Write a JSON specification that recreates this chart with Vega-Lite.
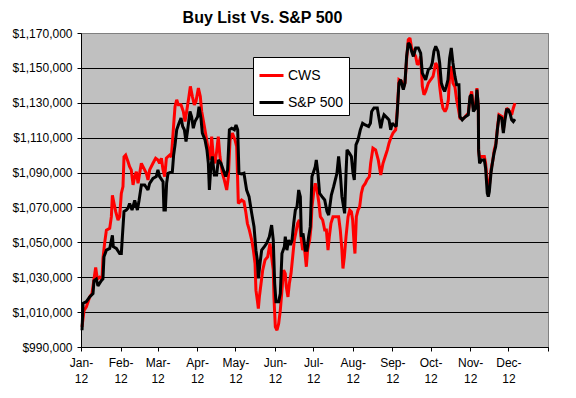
{
  "$schema": "https://vega.github.io/schema/vega-lite/v6.json",
  "width": 467,
  "height": 314,
  "autosize": {"type": "none"},
  "padding": {"left": 81, "top": 33, "right": 28, "bottom": 51},
  "background": "white",
  "title": {"text": "Buy List Vs. S&P 500", "font": "Liberation Sans", "fontSize": 16, "fontWeight": "bold", "color": "black", "anchor": "middle", "dx": -52, "offset": 1},
  "config": {"view": {"fill": "#C0C0C0", "stroke": "#808080", "strokeWidth": 1}, "font": "Liberation Sans"},
  "data": {"values": [
    {"series":"CWS","day":0.8,"value":1001500},{"series":"CWS","day":2.4,"value":1011000},{"series":"CWS","day":4.2,"value":1013000},{"series":"CWS","day":6.8,"value":1018700},{"series":"CWS","day":8.6,"value":1020600},{"series":"CWS","day":10.2,"value":1029000},{"series":"CWS","day":11.5,"value":1035600},{"series":"CWS","day":12.8,"value":1029000},{"series":"CWS","day":14.6,"value":1030000},{"series":"CWS","day":16.5,"value":1029000},{"series":"CWS","day":17.2,"value":1040700},{"series":"CWS","day":18.5,"value":1049400},{"series":"CWS","day":19.9,"value":1057000},{"series":"CWS","day":22.5,"value":1058000},{"series":"CWS","day":23.8,"value":1064700},{"series":"CWS","day":24.6,"value":1077000},{"series":"CWS","day":25.9,"value":1072300},{"series":"CWS","day":27.2,"value":1067600},{"series":"CWS","day":29.0,"value":1062800},{"series":"CWS","day":30.3,"value":1064700},{"series":"CWS","day":31.6,"value":1078000},{"series":"CWS","day":32.9,"value":1082000},{"series":"CWS","day":33.7,"value":1099000},{"series":"CWS","day":35.0,"value":1100000},{"series":"CWS","day":36.8,"value":1096300},{"series":"CWS","day":38.1,"value":1093400},{"series":"CWS","day":39.4,"value":1091500},{"series":"CWS","day":40.8,"value":1082900},{"series":"CWS","day":42.1,"value":1087700},{"series":"CWS","day":43.4,"value":1090500},{"series":"CWS","day":44.7,"value":1083800},{"series":"CWS","day":46.0,"value":1089600},{"series":"CWS","day":47.3,"value":1095300},{"series":"CWS","day":48.6,"value":1093400},{"series":"CWS","day":51.2,"value":1089600},{"series":"CWS","day":52.5,"value":1085800},{"series":"CWS","day":53.8,"value":1091500},{"series":"CWS","day":56.4,"value":1095300},{"series":"CWS","day":58.5,"value":1098200},{"series":"CWS","day":60.3,"value":1097200},{"series":"CWS","day":61.6,"value":1095300},{"series":"CWS","day":63.0,"value":1098200},{"series":"CWS","day":64.3,"value":1091500},{"series":"CWS","day":65.6,"value":1087700},{"series":"CWS","day":66.9,"value":1098200},{"series":"CWS","day":68.2,"value":1099200},{"series":"CWS","day":69.5,"value":1100000},{"series":"CWS","day":70.8,"value":1099000},{"series":"CWS","day":71.6,"value":1106800},{"series":"CWS","day":72.9,"value":1120200},{"series":"CWS","day":73.7,"value":1127900},{"series":"CWS","day":75.0,"value":1131700},{"series":"CWS","day":76.3,"value":1128800},{"series":"CWS","day":78.4,"value":1128800},{"series":"CWS","day":80.2,"value":1125000},{"series":"CWS","day":81.5,"value":1119200},{"series":"CWS","day":82.8,"value":1125000},{"series":"CWS","day":84.6,"value":1133600},{"series":"CWS","day":85.7,"value":1139400},{"series":"CWS","day":87.3,"value":1133600},{"series":"CWS","day":88.8,"value":1128800},{"series":"CWS","day":90.1,"value":1130700},{"series":"CWS","day":92.0,"value":1138400},{"series":"CWS","day":93.5,"value":1133600},{"series":"CWS","day":94.6,"value":1125000},{"series":"CWS","day":96.7,"value":1116400},{"series":"CWS","day":98.5,"value":1108700},{"series":"CWS","day":99.8,"value":1103000},{"series":"CWS","day":101.1,"value":1097200},{"series":"CWS","day":102.4,"value":1110600},{"series":"CWS","day":103.7,"value":1099200},{"series":"CWS","day":105.0,"value":1095300},{"series":"CWS","day":106.3,"value":1102000},{"series":"CWS","day":107.6,"value":1110600},{"series":"CWS","day":108.9,"value":1099200},{"series":"CWS","day":110.8,"value":1089600},{"series":"CWS","day":112.3,"value":1085800},{"series":"CWS","day":114.2,"value":1080000},{"series":"CWS","day":115.5,"value":1087700},{"series":"CWS","day":116.8,"value":1108700},{"series":"CWS","day":118.6,"value":1112600},{"series":"CWS","day":120.7,"value":1108700},{"series":"CWS","day":122.0,"value":1104900},{"series":"CWS","day":123.3,"value":1072300},{"series":"CWS","day":125.9,"value":1074300},{"series":"CWS","day":127.7,"value":1073300},{"series":"CWS","day":129.1,"value":1067600},{"series":"CWS","day":130.4,"value":1060900},{"series":"CWS","day":131.9,"value":1057100},{"series":"CWS","day":133.8,"value":1051300},{"series":"CWS","day":135.1,"value":1045500},{"series":"CWS","day":136.4,"value":1037900},{"series":"CWS","day":137.1,"value":1022600},{"series":"CWS","day":138.2,"value":1016800},{"series":"CWS","day":139.0,"value":1012000},{"series":"CWS","day":139.8,"value":1018700},{"series":"CWS","day":141.1,"value":1026400},{"series":"CWS","day":142.4,"value":1034000},{"series":"CWS","day":144.2,"value":1039800},{"series":"CWS","day":146.3,"value":1041700},{"series":"CWS","day":148.1,"value":1049400},{"series":"CWS","day":149.4,"value":1041700},{"series":"CWS","day":150.7,"value":1034000},{"series":"CWS","day":151.2,"value":1018700},{"series":"CWS","day":152.3,"value":1001500},{"series":"CWS","day":153.6,"value":999600},{"series":"CWS","day":154.9,"value":1003400},{"series":"CWS","day":156.2,"value":1011000},{"series":"CWS","day":157.5,"value":1022600},{"series":"CWS","day":158.8,"value":1034000},{"series":"CWS","day":160.1,"value":1032100},{"series":"CWS","day":160.9,"value":1024500},{"series":"CWS","day":162.2,"value":1018700},{"series":"CWS","day":163.3,"value":1026400},{"series":"CWS","day":164.6,"value":1032100},{"series":"CWS","day":165.9,"value":1041700},{"series":"CWS","day":167.2,"value":1051300},{"series":"CWS","day":168.5,"value":1056100},{"series":"CWS","day":169.8,"value":1060900},{"series":"CWS","day":171.1,"value":1062800},{"series":"CWS","day":172.4,"value":1053200},{"series":"CWS","day":173.7,"value":1045500},{"series":"CWS","day":175.0,"value":1047500},{"series":"CWS","day":176.6,"value":1036000},{"series":"CWS","day":177.6,"value":1045500},{"series":"CWS","day":179.2,"value":1051300},{"series":"CWS","day":180.3,"value":1059000},{"series":"CWS","day":181.0,"value":1070400},{"series":"CWS","day":182.3,"value":1078100},{"series":"CWS","day":183.6,"value":1083800},{"series":"CWS","day":185.0,"value":1080000},{"series":"CWS","day":186.3,"value":1073300},{"series":"CWS","day":187.6,"value":1064700},{"series":"CWS","day":189.4,"value":1062800},{"series":"CWS","day":191.0,"value":1057100},{"series":"CWS","day":192.3,"value":1057100},{"series":"CWS","day":193.6,"value":1045500},{"series":"CWS","day":194.6,"value":1053200},{"series":"CWS","day":195.9,"value":1060900},{"series":"CWS","day":197.5,"value":1064700},{"series":"CWS","day":199.3,"value":1064700},{"series":"CWS","day":201.9,"value":1064700},{"series":"CWS","day":203.2,"value":1057100},{"series":"CWS","day":204.5,"value":1045500},{"series":"CWS","day":205.3,"value":1035000},{"series":"CWS","day":206.4,"value":1041700},{"series":"CWS","day":207.7,"value":1053200},{"series":"CWS","day":209.3,"value":1064700},{"series":"CWS","day":210.6,"value":1068500},{"series":"CWS","day":211.9,"value":1067600},{"series":"CWS","day":212.9,"value":1062800},{"series":"CWS","day":214.0,"value":1049400},{"series":"CWS","day":214.7,"value":1043600},{"series":"CWS","day":215.8,"value":1064700},{"series":"CWS","day":217.1,"value":1068500},{"series":"CWS","day":218.4,"value":1070400},{"series":"CWS","day":219.7,"value":1078100},{"series":"CWS","day":221.0,"value":1081900},{"series":"CWS","day":222.8,"value":1083800},{"series":"CWS","day":224.1,"value":1085800},{"series":"CWS","day":226.0,"value":1087700},{"series":"CWS","day":227.0,"value":1095300},{"series":"CWS","day":228.8,"value":1104000},{"series":"CWS","day":230.9,"value":1103000},{"series":"CWS","day":233.0,"value":1097200},{"series":"CWS","day":234.9,"value":1088600},{"series":"CWS","day":236.7,"value":1095300},{"series":"CWS","day":238.8,"value":1100100},{"series":"CWS","day":240.1,"value":1103000},{"series":"CWS","day":241.4,"value":1106800},{"series":"CWS","day":242.7,"value":1109700},{"series":"CWS","day":244.5,"value":1112600},{"series":"CWS","day":246.6,"value":1114500},{"series":"CWS","day":247.9,"value":1126000},{"series":"CWS","day":249.2,"value":1143200},{"series":"CWS","day":251.3,"value":1142200},{"series":"CWS","day":252.6,"value":1138400},{"series":"CWS","day":253.9,"value":1141300},{"series":"CWS","day":255.2,"value":1154700},{"series":"CWS","day":256.5,"value":1166200},{"series":"CWS","day":257.8,"value":1167100},{"series":"CWS","day":259.1,"value":1161400},{"series":"CWS","day":261.0,"value":1158500},{"series":"CWS","day":262.3,"value":1156600},{"series":"CWS","day":263.6,"value":1151800},{"series":"CWS","day":264.9,"value":1152800},{"series":"CWS","day":266.2,"value":1156600},{"series":"CWS","day":267.5,"value":1139400},{"series":"CWS","day":268.8,"value":1134600},{"series":"CWS","day":270.1,"value":1136500},{"series":"CWS","day":272.2,"value":1141300},{"series":"CWS","day":274.0,"value":1143200},{"series":"CWS","day":275.9,"value":1145100},{"series":"CWS","day":278.0,"value":1152800},{"series":"CWS","day":279.8,"value":1150000},{"series":"CWS","day":281.1,"value":1139400},{"series":"CWS","day":282.4,"value":1131700},{"series":"CWS","day":283.7,"value":1126900},{"series":"CWS","day":285.3,"value":1125000},{"series":"CWS","day":286.6,"value":1126900},{"series":"CWS","day":287.9,"value":1131700},{"series":"CWS","day":288.9,"value":1146100},{"series":"CWS","day":290.2,"value":1150900},{"series":"CWS","day":291.5,"value":1141300},{"series":"CWS","day":293.1,"value":1139000},{"series":"CWS","day":294.4,"value":1131700},{"series":"CWS","day":295.7,"value":1126900},{"series":"CWS","day":297.0,"value":1121200},{"series":"CWS","day":298.8,"value":1120600},{"series":"CWS","day":300.9,"value":1121800},{"series":"CWS","day":303.5,"value":1124000},{"series":"CWS","day":304.9,"value":1132700},{"series":"CWS","day":306.2,"value":1136500},{"series":"CWS","day":307.5,"value":1126900},{"series":"CWS","day":309.3,"value":1127900},{"series":"CWS","day":310.3,"value":1138400},{"series":"CWS","day":311.4,"value":1126900},{"series":"CWS","day":311.6,"value":1103000},{"series":"CWS","day":312.4,"value":1098200},{"series":"CWS","day":314.0,"value":1099200},{"series":"CWS","day":316.1,"value":1099200},{"series":"CWS","day":317.1,"value":1095300},{"series":"CWS","day":318.4,"value":1083800},{"series":"CWS","day":319.2,"value":1080000},{"series":"CWS","day":320.0,"value":1081900},{"series":"CWS","day":321.3,"value":1091500},{"series":"CWS","day":322.6,"value":1096300},{"series":"CWS","day":323.9,"value":1103000},{"series":"CWS","day":325.2,"value":1106800},{"series":"CWS","day":326.5,"value":1116400},{"series":"CWS","day":327.6,"value":1123100},{"series":"CWS","day":329.7,"value":1122200},{"series":"CWS","day":331.0,"value":1114500},{"series":"CWS","day":332.3,"value":1122200},{"series":"CWS","day":333.6,"value":1126900},{"series":"CWS","day":334.9,"value":1126000},{"series":"CWS","day":336.2,"value":1125000},{"series":"CWS","day":337.5,"value":1123100},{"series":"CWS","day":338.8,"value":1126900},{"series":"CWS","day":340.1,"value":1129800},
    {"series":"S&P 500","day":0.8,"value":999600},{"series":"S&P 500","day":1.6,"value":1015000},{"series":"S&P 500","day":4.2,"value":1016000},{"series":"S&P 500","day":6.8,"value":1018700},{"series":"S&P 500","day":9.4,"value":1020600},{"series":"S&P 500","day":10.2,"value":1028000},{"series":"S&P 500","day":12.0,"value":1029000},{"series":"S&P 500","day":13.3,"value":1025000},{"series":"S&P 500","day":15.9,"value":1028000},{"series":"S&P 500","day":17.2,"value":1029000},{"series":"S&P 500","day":18.0,"value":1041700},{"series":"S&P 500","day":19.9,"value":1045500},{"series":"S&P 500","day":22.5,"value":1046500},{"series":"S&P 500","day":24.6,"value":1054000},{"series":"S&P 500","day":25.3,"value":1047500},{"series":"S&P 500","day":27.7,"value":1046500},{"series":"S&P 500","day":30.3,"value":1043600},{"series":"S&P 500","day":31.6,"value":1043600},{"series":"S&P 500","day":32.4,"value":1053000},{"series":"S&P 500","day":33.7,"value":1067600},{"series":"S&P 500","day":35.5,"value":1068500},{"series":"S&P 500","day":36.8,"value":1069500},{"series":"S&P 500","day":38.1,"value":1072300},{"series":"S&P 500","day":40.0,"value":1068500},{"series":"S&P 500","day":42.1,"value":1074000},{"series":"S&P 500","day":44.2,"value":1068500},{"series":"S&P 500","day":45.5,"value":1074000},{"series":"S&P 500","day":47.3,"value":1082900},{"series":"S&P 500","day":49.9,"value":1082900},{"series":"S&P 500","day":52.5,"value":1080000},{"series":"S&P 500","day":53.8,"value":1083800},{"series":"S&P 500","day":56.4,"value":1086700},{"series":"S&P 500","day":59.0,"value":1087700},{"series":"S&P 500","day":60.3,"value":1091500},{"series":"S&P 500","day":61.6,"value":1087700},{"series":"S&P 500","day":64.3,"value":1084800},{"series":"S&P 500","day":65.0,"value":1068500},{"series":"S&P 500","day":66.1,"value":1068500},{"series":"S&P 500","day":67.1,"value":1083800},{"series":"S&P 500","day":68.2,"value":1089600},{"series":"S&P 500","day":71.6,"value":1090500},{"series":"S&P 500","day":72.6,"value":1100000},{"series":"S&P 500","day":73.7,"value":1105900},{"series":"S&P 500","day":75.0,"value":1114500},{"series":"S&P 500","day":76.8,"value":1118300},{"series":"S&P 500","day":78.4,"value":1121200},{"series":"S&P 500","day":79.7,"value":1116400},{"series":"S&P 500","day":81.0,"value":1114500},{"series":"S&P 500","day":82.3,"value":1107800},{"series":"S&P 500","day":83.6,"value":1114500},{"series":"S&P 500","day":85.4,"value":1125000},{"series":"S&P 500","day":86.7,"value":1122000},{"series":"S&P 500","day":88.0,"value":1115400},{"series":"S&P 500","day":89.3,"value":1119200},{"series":"S&P 500","day":91.4,"value":1122000},{"series":"S&P 500","day":92.5,"value":1127700},{"series":"S&P 500","day":94.0,"value":1121200},{"series":"S&P 500","day":95.1,"value":1112600},{"series":"S&P 500","day":97.2,"value":1108700},{"series":"S&P 500","day":98.7,"value":1103000},{"series":"S&P 500","day":99.8,"value":1095300},{"series":"S&P 500","day":100.6,"value":1080000},{"series":"S&P 500","day":101.6,"value":1091500},{"series":"S&P 500","day":102.9,"value":1099200},{"series":"S&P 500","day":104.5,"value":1088600},{"series":"S&P 500","day":106.3,"value":1088600},{"series":"S&P 500","day":107.6,"value":1097200},{"series":"S&P 500","day":109.7,"value":1095300},{"series":"S&P 500","day":111.5,"value":1091500},{"series":"S&P 500","day":113.4,"value":1087700},{"series":"S&P 500","day":114.9,"value":1091500},{"series":"S&P 500","day":116.3,"value":1114500},{"series":"S&P 500","day":118.1,"value":1115400},{"series":"S&P 500","day":120.2,"value":1114500},{"series":"S&P 500","day":121.5,"value":1117300},{"series":"S&P 500","day":122.8,"value":1114500},{"series":"S&P 500","day":123.8,"value":1089600},{"series":"S&P 500","day":125.9,"value":1089200},{"series":"S&P 500","day":127.7,"value":1089600},{"series":"S&P 500","day":129.8,"value":1080000},{"series":"S&P 500","day":131.7,"value":1076200},{"series":"S&P 500","day":133.8,"value":1066600},{"series":"S&P 500","day":135.6,"value":1059000},{"series":"S&P 500","day":137.1,"value":1045500},{"series":"S&P 500","day":138.2,"value":1039800},{"series":"S&P 500","day":139.0,"value":1029300},{"series":"S&P 500","day":140.3,"value":1037900},{"series":"S&P 500","day":141.6,"value":1045500},{"series":"S&P 500","day":143.7,"value":1047500},{"series":"S&P 500","day":145.5,"value":1049400},{"series":"S&P 500","day":147.6,"value":1053200},{"series":"S&P 500","day":149.4,"value":1059900},{"series":"S&P 500","day":150.7,"value":1051300},{"series":"S&P 500","day":151.1,"value":1041700},{"series":"S&P 500","day":151.8,"value":1026400},{"series":"S&P 500","day":152.8,"value":1015900},{"series":"S&P 500","day":154.9,"value":1015900},{"series":"S&P 500","day":156.2,"value":1020600},{"series":"S&P 500","day":157.5,"value":1043600},{"series":"S&P 500","day":159.4,"value":1047500},{"series":"S&P 500","day":160.1,"value":1053200},{"series":"S&P 500","day":161.4,"value":1045500},{"series":"S&P 500","day":162.7,"value":1051300},{"series":"S&P 500","day":164.1,"value":1048400},{"series":"S&P 500","day":165.4,"value":1051300},{"series":"S&P 500","day":166.7,"value":1060900},{"series":"S&P 500","day":168.0,"value":1068500},{"series":"S&P 500","day":169.3,"value":1070400},{"series":"S&P 500","day":170.6,"value":1080000},{"series":"S&P 500","day":171.9,"value":1076200},{"series":"S&P 500","day":172.7,"value":1053200},{"series":"S&P 500","day":174.0,"value":1055100},{"series":"S&P 500","day":175.8,"value":1045500},{"series":"S&P 500","day":177.1,"value":1045500},{"series":"S&P 500","day":178.4,"value":1053200},{"series":"S&P 500","day":179.7,"value":1059000},{"series":"S&P 500","day":181.0,"value":1087700},{"series":"S&P 500","day":182.3,"value":1090500},{"series":"S&P 500","day":183.6,"value":1093400},{"series":"S&P 500","day":184.4,"value":1097200},{"series":"S&P 500","day":185.7,"value":1089600},{"series":"S&P 500","day":187.0,"value":1078100},{"series":"S&P 500","day":188.9,"value":1076200},{"series":"S&P 500","day":191.0,"value":1074300},{"series":"S&P 500","day":192.8,"value":1067600},{"series":"S&P 500","day":194.1,"value":1065600},{"series":"S&P 500","day":196.2,"value":1077100},{"series":"S&P 500","day":198.0,"value":1081900},{"series":"S&P 500","day":199.3,"value":1085800},{"series":"S&P 500","day":200.6,"value":1089600},{"series":"S&P 500","day":201.9,"value":1099200},{"series":"S&P 500","day":203.2,"value":1089600},{"series":"S&P 500","day":204.5,"value":1076200},{"series":"S&P 500","day":206.6,"value":1066600},{"series":"S&P 500","day":207.7,"value":1089600},{"series":"S&P 500","day":208.5,"value":1103000},{"series":"S&P 500","day":210.3,"value":1101100},{"series":"S&P 500","day":211.9,"value":1099200},{"series":"S&P 500","day":213.2,"value":1089600},{"series":"S&P 500","day":214.2,"value":1085800},{"series":"S&P 500","day":215.5,"value":1105900},{"series":"S&P 500","day":217.1,"value":1108700},{"series":"S&P 500","day":218.9,"value":1114500},{"series":"S&P 500","day":220.7,"value":1118300},{"series":"S&P 500","day":222.8,"value":1117300},{"series":"S&P 500","day":225.4,"value":1116400},{"series":"S&P 500","day":226.8,"value":1118300},{"series":"S&P 500","day":227.8,"value":1125000},{"series":"S&P 500","day":229.6,"value":1127000},{"series":"S&P 500","day":232.2,"value":1127000},{"series":"S&P 500","day":234.9,"value":1115400},{"series":"S&P 500","day":236.2,"value":1120200},{"series":"S&P 500","day":237.5,"value":1123100},{"series":"S&P 500","day":240.1,"value":1121200},{"series":"S&P 500","day":241.4,"value":1120200},{"series":"S&P 500","day":242.7,"value":1114500},{"series":"S&P 500","day":244.0,"value":1118300},{"series":"S&P 500","day":245.3,"value":1117300},{"series":"S&P 500","day":247.1,"value":1116400},{"series":"S&P 500","day":247.9,"value":1125000},{"series":"S&P 500","day":249.2,"value":1141300},{"series":"S&P 500","day":250.5,"value":1143200},{"series":"S&P 500","day":252.6,"value":1137500},{"series":"S&P 500","day":253.9,"value":1141300},{"series":"S&P 500","day":255.2,"value":1156600},{"series":"S&P 500","day":256.5,"value":1164300},{"series":"S&P 500","day":257.8,"value":1163300},{"series":"S&P 500","day":259.1,"value":1159500},{"series":"S&P 500","day":260.5,"value":1156600},{"series":"S&P 500","day":262.3,"value":1161400},{"series":"S&P 500","day":264.4,"value":1161400},{"series":"S&P 500","day":266.2,"value":1158500},{"series":"S&P 500","day":267.5,"value":1147000},{"series":"S&P 500","day":268.8,"value":1145100},{"series":"S&P 500","day":270.1,"value":1143200},{"series":"S&P 500","day":272.2,"value":1149000},{"series":"S&P 500","day":274.0,"value":1150000},{"series":"S&P 500","day":275.3,"value":1152800},{"series":"S&P 500","day":276.6,"value":1159500},{"series":"S&P 500","day":278.0,"value":1162400},{"series":"S&P 500","day":279.8,"value":1159500},{"series":"S&P 500","day":281.1,"value":1152800},{"series":"S&P 500","day":282.4,"value":1141300},{"series":"S&P 500","day":283.7,"value":1138400},{"series":"S&P 500","day":285.0,"value":1136500},{"series":"S&P 500","day":286.3,"value":1139400},{"series":"S&P 500","day":287.6,"value":1143200},{"series":"S&P 500","day":288.9,"value":1155600},{"series":"S&P 500","day":290.2,"value":1161400},{"series":"S&P 500","day":291.5,"value":1152800},{"series":"S&P 500","day":293.1,"value":1145000},{"series":"S&P 500","day":294.4,"value":1140300},{"series":"S&P 500","day":296.2,"value":1140300},{"series":"S&P 500","day":297.0,"value":1122000},{"series":"S&P 500","day":298.8,"value":1120200},{"series":"S&P 500","day":300.9,"value":1121800},{"series":"S&P 500","day":303.5,"value":1123100},{"series":"S&P 500","day":304.9,"value":1133600},{"series":"S&P 500","day":306.2,"value":1134600},{"series":"S&P 500","day":307.5,"value":1125000},{"series":"S&P 500","day":309.3,"value":1126900},{"series":"S&P 500","day":310.3,"value":1137500},{"series":"S&P 500","day":311.4,"value":1127900},{"series":"S&P 500","day":311.6,"value":1103000},{"series":"S&P 500","day":312.4,"value":1095300},{"series":"S&P 500","day":314.0,"value":1097200},{"series":"S&P 500","day":316.1,"value":1097200},{"series":"S&P 500","day":317.1,"value":1092500},{"series":"S&P 500","day":318.4,"value":1078100},{"series":"S&P 500","day":319.2,"value":1076200},{"series":"S&P 500","day":320.0,"value":1079000},{"series":"S&P 500","day":321.3,"value":1089600},{"series":"S&P 500","day":322.4,"value":1095300},{"series":"S&P 500","day":323.7,"value":1101100},{"series":"S&P 500","day":325.0,"value":1104900},{"series":"S&P 500","day":326.3,"value":1114500},{"series":"S&P 500","day":327.6,"value":1122200},{"series":"S&P 500","day":329.7,"value":1121200},{"series":"S&P 500","day":331.0,"value":1112600},{"series":"S&P 500","day":332.3,"value":1120200},{"series":"S&P 500","day":333.6,"value":1126000},{"series":"S&P 500","day":334.9,"value":1126000},{"series":"S&P 500","day":336.2,"value":1124000},{"series":"S&P 500","day":337.5,"value":1120200},{"series":"S&P 500","day":338.8,"value":1119200},{"series":"S&P 500","day":340.1,"value":1120600}
  ]},
  "mark": {"type": "line", "strokeWidth": 3, "strokeJoin": "miter", "strokeMiterLimit": 2},
  "encoding": {
    "x": {
      "field": "day", "type": "quantitative",
      "scale": {"domain": [0, 366], "nice": false, "zero": false},
      "axis": {
        "title": null, "grid": false,
        "values": [0, 31, 60, 91, 121, 152, 182, 213, 244, 274, 305, 335, 366],
        "labelExpr": "datum.value >= 366 ? '' : [['Jan-','Feb-','Mar-','Apr-','May-','Jun-','Jul-','Aug-','Sep-','Oct-','Nov-','Dec-'][indexof([0,31,60,91,121,152,182,213,244,274,305,335], datum.value)], '12']",
        "labelFont": "Liberation Sans", "labelFontSize": 12, "labelColor": "black", "labelLineHeight": 16,
        "labelPadding": 6, "labelOverlap": false, "labelFlush": false, "labelBound": false,
        "tickSize": 4, "tickColor": "black", "domainColor": "black"
      }
    },
    "y": {
      "field": "value", "type": "quantitative",
      "scale": {"domain": [990000, 1170000], "nice": false, "zero": false},
      "axis": {
        "title": null, "grid": true,
        "values": [990000, 1010000, 1030000, 1050000, 1070000, 1090000, 1110000, 1130000, 1150000, 1170000],
        "format": "$,.0f",
        "gridColor": {"condition": {"test": "datum.value >= 1170000", "value": "#808080"}, "value": "black"},
        "gridOpacity": 1,
        "labelFont": "Liberation Sans", "labelFontSize": 12, "labelColor": "black",
        "labelPadding": 5, "tickSize": 4, "tickColor": "black", "domainColor": "black"
      }
    },
    "color": {
      "field": "series", "type": "nominal",
      "scale": {"domain": ["CWS", "S&P 500"], "range": ["#FF0000", "#000000"]},
      "legend": {
        "title": null, "orient": "none", "legendX": 172, "legendY": 24, "direction": "vertical",
        "fillColor": "white", "strokeColor": "black", "padding": 5,
        "symbolType": "stroke", "symbolSize": 576, "symbolStrokeWidth": 3,
        "labelFont": "Liberation Sans", "labelFontSize": 14, "labelColor": "black",
        "labelOffset": 3, "rowPadding": 6
      }
    }
  }
}
